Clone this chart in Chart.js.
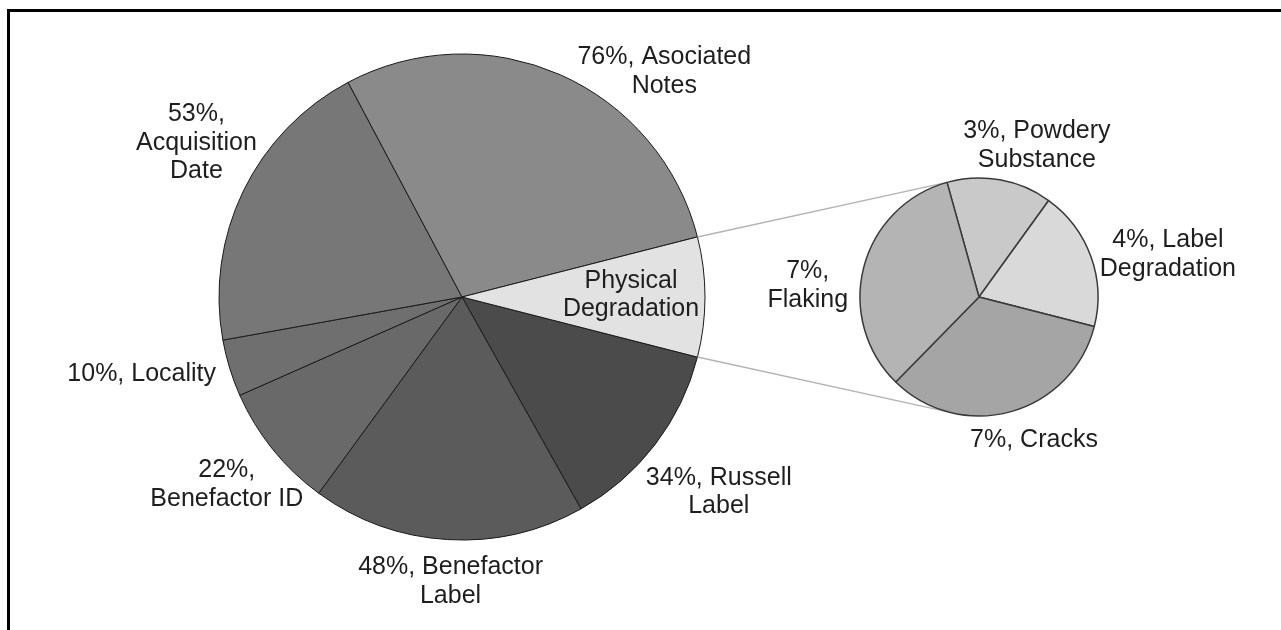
<!DOCTYPE html>
<html>
<head>
<meta charset="utf-8">
<script src="https://cdn.jsdelivr.net/npm/chart.js@4.4.1/dist/chart.umd.min.js"></script>
<style>
  html, body { margin: 0; padding: 0; background: #fff; overflow: hidden; }
  #frame { position: absolute; left: 7px; top: 9px; width: 1400px; height: 800px;
           border-left: 3px solid #000; border-top: 3px solid #000; }
  canvas { position: absolute; left: 0; top: 0; }
</style>
</head>
<body>
<div id="frame"></div>
<canvas id="mainPie" width="1281" height="630"></canvas>
<canvas id="subPie" width="1281" height="630"></canvas>
<script>
// main pie, listed clockwise from the split-off slice
const mainCategories = ['Russell Label', 'Benefactor Label', 'Benefactor ID', 'Locality', 'Acquisition Date', 'Asociated Notes'];
const mainValues = [34, 48, 22, 10, 53, 76];

// slice broken out into the second pie
const splitName = 'Physical Degradation';
const subCategories = ['Powdery Substance', 'Label Degradation', 'Cracks', 'Flaking'];
const subValues = [3, 4, 7, 7];

const splitValue = subValues.reduce((a, b) => a + b, 0);
const allMainLabels = mainCategories.concat([splitName]);
const allMainValues = mainValues.concat([splitValue]);
const mainTotal = allMainValues.reduce((a, b) => a + b, 0);

const FONT = "25px 'Liberation Sans', Arial, sans-serif";

function wrapText(ctx, text, maxW) {
    const words = text.split(' ');
    const lines = [];
    let cur = '';
    words.forEach(w => {
        const test = cur ? cur + ' ' + w : w;
        if (cur && ctx.measureText(test).width > maxW) {
            lines.push(cur);
            cur = w;
        } else {
            cur = test;
        }
    });
    if (cur) lines.push(cur);
    return lines;
}

// draws each slice's label next to its outer edge, shifted by a nudge
const sliceLabels = {
    id: 'sliceLabels',
    afterDatasetsDraw(chart, args, opts) {
        const ctx = chart.ctx;
        const arcs = chart.getDatasetMeta(0).data;
        ctx.save();
        ctx.font = FONT;
        ctx.fillStyle = '#1e1e1e';
        ctx.textAlign = 'center';
        ctx.textBaseline = 'middle';
        arcs.forEach((arc, i) => {
            const p = arc.getProps(['x', 'y', 'startAngle', 'endAngle', 'outerRadius'], true);
            const mid = (p.startAngle + p.endAngle) / 2;
            const ex = p.x + p.outerRadius * Math.cos(mid);
            const ey = p.y + p.outerRadius * Math.sin(mid);
            const lines = wrapText(ctx, opts.texts[i], opts.wraps[i]);
            const lh = 28.5;
            const cx = ex + opts.nudges[i][0];
            const cy = ey + opts.nudges[i][1];
            lines.forEach((ln, k) => {
                ctx.fillText(ln, cx, cy + (k - (lines.length - 1) / 2) * lh);
            });
        });
        ctx.restore();
    }
};

const mainTexts = allMainLabels.map((n, i) => n === splitName ? n : allMainValues[i] + '%, ' + n);
const subTexts = subCategories.map((n, i) => subValues[i] + '%, ' + n);

const mainChart = new Chart(document.getElementById('mainPie'), {
    type: 'pie',
    data: {
        labels: allMainLabels,
        datasets: [{
            data: allMainValues,
            backgroundColor: ['#4b4b4b', '#5b5b5b', '#696969', '#6f6f6f', '#777777', '#8a8a8a', '#e2e2e2'],
            borderColor: '#1a1a1a',
            borderWidth: 1,
            radius: 243
        }]
    },
    options: {
        responsive: false,
        animation: false,
        events: [],
        // split slice sits centred on the 3 o'clock axis
        rotation: 90 + (splitValue / mainTotal) * 180,
        layout: { padding: { left: 0, right: 357, top: 0, bottom: 36 } },
        plugins: {
            legend: { display: false },
            tooltip: { enabled: false },
            sliceLabels: {
                texts: mainTexts,
                wraps: [165, 200, 165, 200, 150, 180, 150],
                nudges: [[64, 47], [3, 42], [-46, 35], [-88, 6], [-47, -48], [104, -3], [-74, -2]]
            }
        }
    },
    plugins: [sliceLabels]
});

// grey lines from the split slice to the second pie
const connectors = {
    id: 'connectors',
    beforeDatasetsDraw(chart) {
        const mArcs = mainChart.getDatasetMeta(0).data;
        const m = mArcs[mArcs.length - 1].getProps(['x', 'y', 'startAngle', 'endAngle', 'outerRadius'], true);
        const s = chart.getDatasetMeta(0).data[0].getProps(['x', 'y', 'startAngle', 'outerRadius'], true);
        const ctx = chart.ctx;
        const a = s.startAngle;
        ctx.save();
        ctx.strokeStyle = '#b4b4b4';
        ctx.lineWidth = 1.5;
        ctx.beginPath();
        ctx.moveTo(m.x + m.outerRadius * Math.cos(m.startAngle), m.y + m.outerRadius * Math.sin(m.startAngle));
        ctx.lineTo(s.x + s.outerRadius * Math.cos(a), s.y + s.outerRadius * Math.sin(a));
        ctx.moveTo(m.x + m.outerRadius * Math.cos(m.endAngle), m.y + m.outerRadius * Math.sin(m.endAngle));
        ctx.lineTo(s.x + s.outerRadius * Math.cos(a), s.y - s.outerRadius * Math.sin(a));
        ctx.stroke();
        ctx.restore();
    }
};

new Chart(document.getElementById('subPie'), {
    type: 'pie',
    data: {
        labels: subCategories,
        datasets: [{
            data: subValues,
            backgroundColor: ['#c9c9c9', '#d9d9d9', '#a5a5a5', '#b4b4b4'],
            borderColor: '#3a3a3a',
            borderWidth: 1.5,
            radius: 119
        }]
    },
    options: {
        responsive: false,
        animation: false,
        events: [],
        rotation: -15.6,
        layout: { padding: { left: 677, right: 0, top: 0, bottom: 36 } },
        plugins: {
            legend: { display: false },
            tooltip: { enabled: false },
            sliceLabels: {
                texts: subTexts,
                wraps: [160, 150, 160, 100],
                nudges: [[37, -34], [77, -2], [23, 28], [-56, 18]]
            }
        }
    },
    plugins: [connectors, sliceLabels]
});
</script>
</body>
</html>
